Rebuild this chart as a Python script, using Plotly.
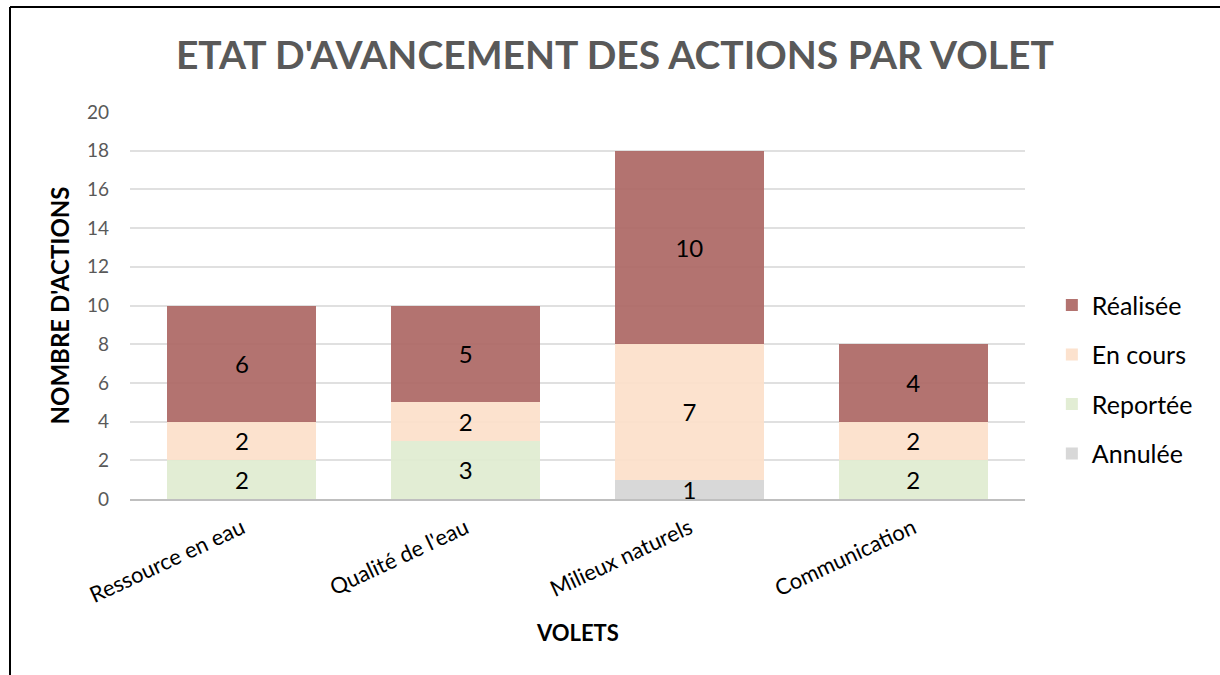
import plotly.graph_objects as go

categories = ["Ressource en eau", "Qualité de l'eau", "Milieux naturels", "Communication"]
annulee = [0, 0, 1, 0]
reportee = [2, 3, 0, 2]
en_cours = [2, 2, 7, 2]
realisee = [6, 5, 10, 4]

series = [
    ("Annulée", annulee, "rgba(213,213,213,0.92)", 4),
    ("Reportée", reportee, "rgba(224,235,208,0.92)", 3),
    ("En cours", en_cours, "rgba(252,224,202,0.92)", 2),
    ("Réalisée", realisee, "rgba(172,103,100,0.92)", 1),
]

FONT = "Lato"
fig = go.Figure()
for name, vals, col, rank in series:
    fig.add_trace(go.Bar(
        x=categories, y=vals, name=name,
        marker=dict(color=col, line=dict(width=0)),
        text=[str(v) if v else "" for v in vals],
        textposition="inside", insidetextanchor="middle",
        textangle=0, constraintext="none",
        textfont=dict(family=FONT, size=24, color="black"),
        legendgroup=name, legendrank=rank,
    ))

fig.update_layout(
    width=1220, height=675,
    barmode="stack", bargap=0.334,
    plot_bgcolor="white", paper_bgcolor="white",
    margin=dict(l=130, r=195, t=112, b=176),
    font=dict(family=FONT),
    title=dict(text="<b>ETAT D'AVANCEMENT DES ACTIONS PAR VOLET</b>",
               x=0.504, xref="container", xanchor="center",
               y=1 - 55 / 675, yref="container", yanchor="middle",
               font=dict(family=FONT, size=39, color="#595959")),
    legend=dict(x=1.03, xanchor="left", y=0.56, yanchor="top",
                traceorder="grouped", tracegroupgap=14,
                font=dict(family=FONT, size=25, color="black"),
                itemwidth=30),
    xaxis=dict(showgrid=False, showline=True, linecolor="#BFBFBF", linewidth=2,
               tickangle=-25, tickfont=dict(family=FONT, size=22, color="black"),
               ticks="", ticklabelstandoff=6),
    yaxis=dict(range=[0, 20], dtick=2, showgrid=True, gridcolor="#E0E0E0", gridwidth=2,
               zeroline=False, showline=False, ticks="", ticklabelstandoff=20,
               tickfont=dict(family=FONT, size=19, color="#595959"),
               title=dict(text="<b>NOMBRE D'ACTIONS</b>", standoff=10,
                          font=dict(family=FONT, size=24, color="black"))),
    annotations=[dict(text="<b>VOLETS</b>", xref="paper", yref="paper",
                      x=0.5, y=(499 - 632) / 387, xanchor="center", yanchor="middle",
                      showarrow=False, font=dict(family=FONT, size=22, color="black"))],
    shapes=[
        dict(type="line", xref="paper", yref="paper",
             x0=(10 - 130) / 895, x1=1.3, y0=(499 - 7) / 387, y1=(499 - 7) / 387,
             line=dict(color="black", width=2)),
        dict(type="line", xref="paper", yref="paper",
             x0=(10 - 130) / 895, x1=(10 - 130) / 895, y0=(499 - 7) / 387, y1=-0.6,
             line=dict(color="black", width=2)),
    ],
)

fig.write_html("out.html", config={"displayModeBar": False},
               post_script="document.body.style.margin='0px';")
